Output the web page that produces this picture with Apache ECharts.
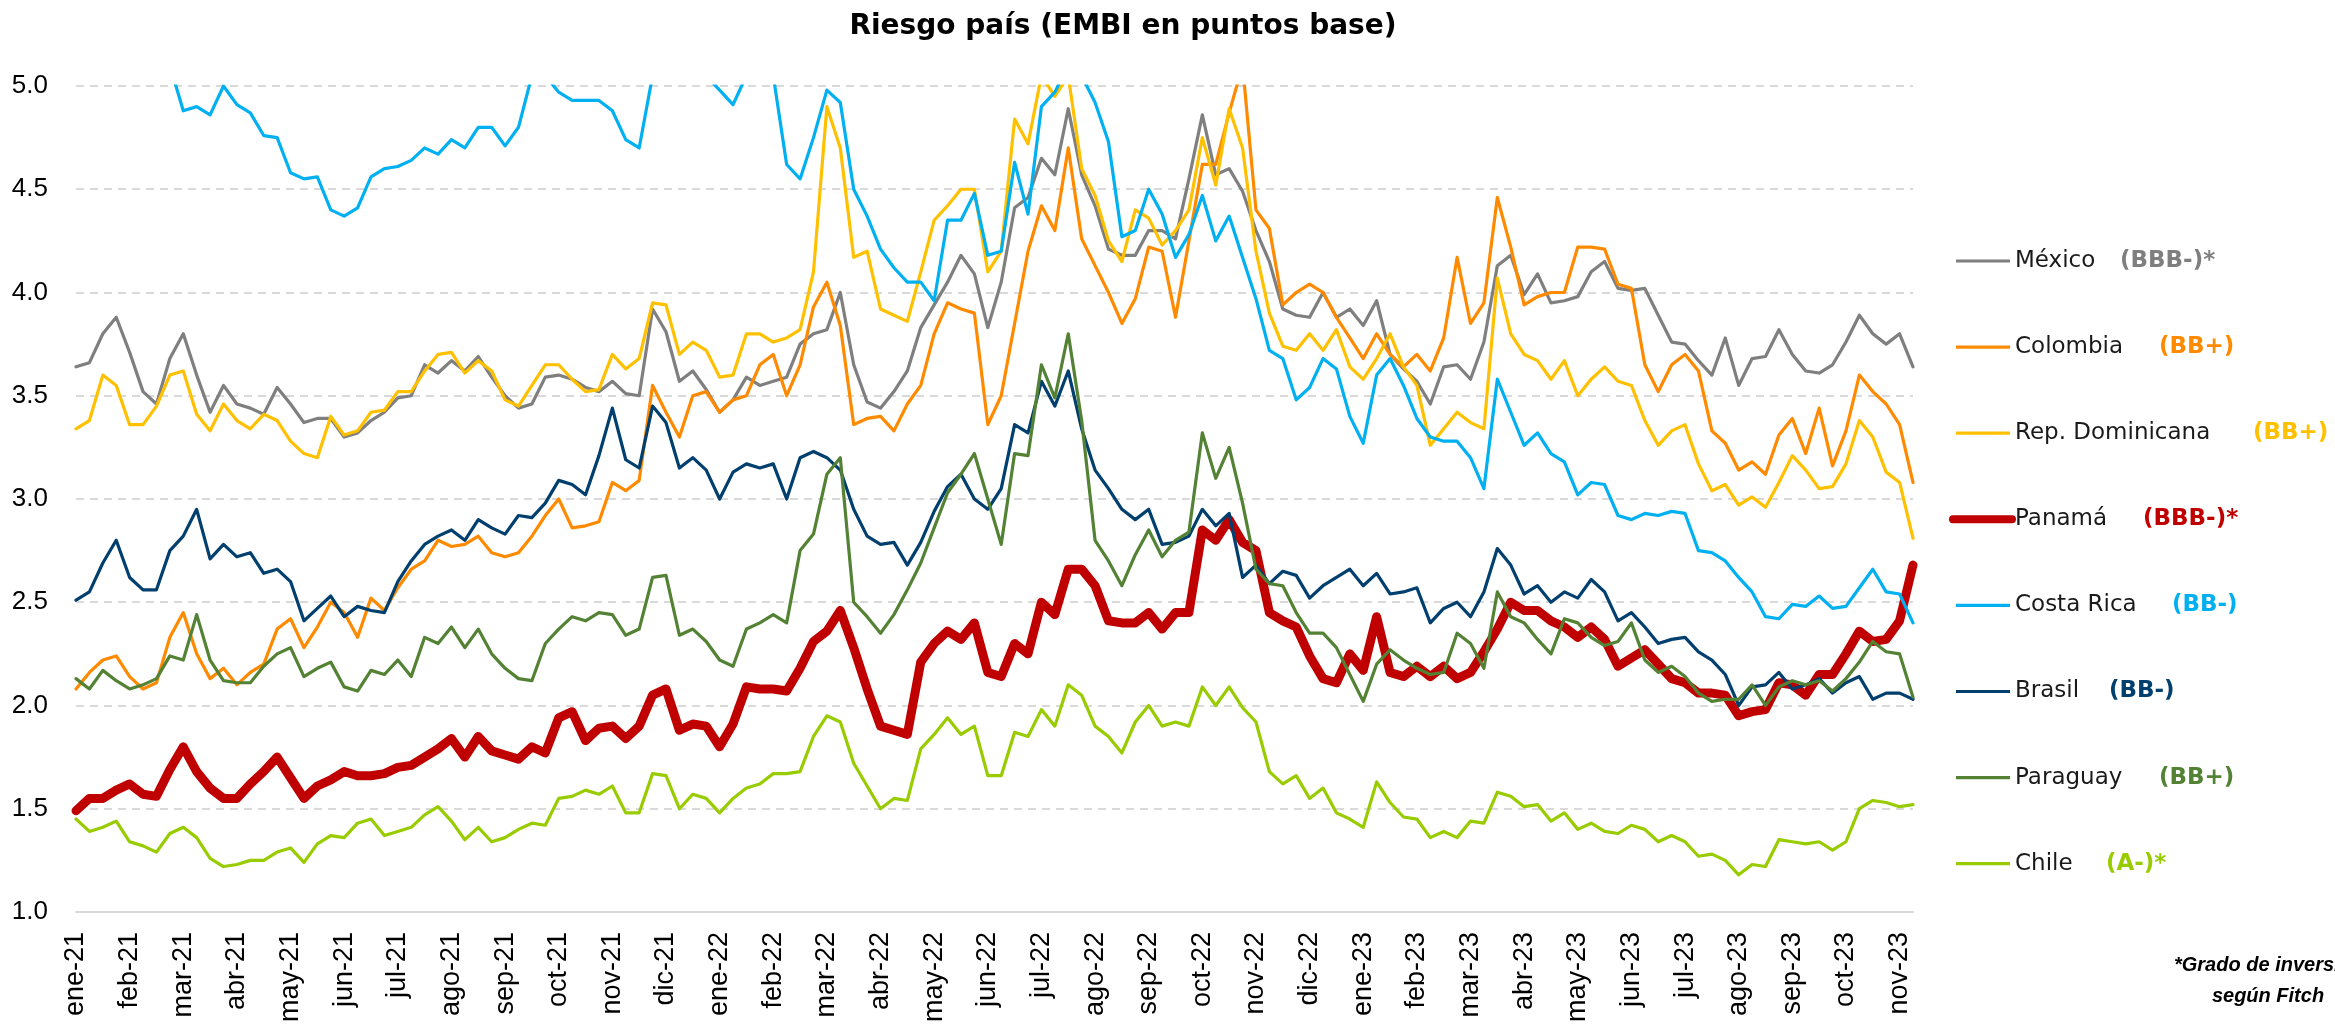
<!DOCTYPE html>
<html lang="es">
<head>
<meta charset="utf-8">
<title>Riesgo país (EMBI en puntos base)</title>
<script src="https://cdn.jsdelivr.net/npm/echarts@6.0.0/dist/echarts.min.js"></script>
<style>
  html, body { margin: 0; padding: 0; background: #fff; }
  #chart { width: 2335px; height: 1025px; }
</style>
</head>
<body>
<div id="chart"></div>
<script>
// meses del eje (una etiqueta por mes, 4 lecturas semanales por mes)
const MONTHS = ['ene-21','feb-21','mar-21','abr-21','may-21','jun-21','jul-21','ago-21','sep-21','oct-21','nov-21','dic-21',
  'ene-22','feb-22','mar-22','abr-22','may-22','jun-22','jul-22','ago-22','sep-22','oct-22','nov-22','dic-22',
  'ene-23','feb-23','mar-23','abr-23','may-23','jun-23','jul-23','ago-23','sep-23','oct-23','nov-23'];
const WEEKS = ['s1', 's2', 's3', 's4'];
const CATEGORIES = MONTHS.flatMap(m => WEEKS.map(w => m + ' ' + w)).slice(0, 138);

// EMBI (cientos de puntos base), lectura semanal
const MEXICO = [
  3.64,3.66,3.80,3.88,3.71,3.52,3.46,3.68,3.80,3.60,3.42,3.55,3.46,3.44,3.41,3.54,3.46,3.37,3.39,3.39,3.30,3.32,3.38,3.42,3.49,3.50,3.65,3.61,3.67,
  3.62,3.69,3.59,3.50,3.44,3.46,3.59,3.60,3.58,3.54,3.52,3.57,3.51,3.50,3.92,3.81,3.57,3.62,3.53,3.42,3.48,3.59,3.55,3.57,3.59,3.75,3.80,3.82,
  4.00,3.65,3.47,3.44,3.52,3.62,3.83,3.94,4.05,4.18,4.09,3.83,4.05,4.41,4.46,4.65,4.57,4.89,4.57,4.42,4.21,4.18,4.18,4.30,4.30,4.26,4.55,
  4.86,4.57,4.60,4.49,4.30,4.15,3.92,3.89,3.88,4.00,3.88,3.92,3.84,3.96,3.70,3.63,3.57,3.46,3.64,3.65,3.58,3.76,4.13,4.18,3.99,4.09,3.95,3.96,
  3.98,4.10,4.15,4.02,4.01,4.02,3.89,3.76,3.75,3.67,3.60,3.78,3.55,3.68,3.69,3.82,3.70,3.62,3.61,3.65,3.76,3.89,3.80,3.75,3.80,3.64];
const COLOMBIA = [
  2.08,2.16,2.22,2.24,2.14,2.08,2.11,2.33,2.45,2.25,2.13,2.18,2.10,2.16,2.20,2.37,2.42,2.28,2.38,2.50,2.45,2.33,2.52,2.46,2.57,2.66,2.70,2.80,2.77,
  2.78,2.82,2.74,2.72,2.74,2.82,2.92,3.00,2.86,2.87,2.89,3.08,3.04,3.09,3.55,3.42,3.30,3.50,3.52,3.42,3.48,3.50,3.65,3.70,3.50,3.65,3.93,4.05,
  3.84,3.36,3.39,3.40,3.33,3.46,3.55,3.80,3.95,3.92,3.90,3.36,3.50,3.85,4.20,4.42,4.30,4.70,4.26,4.13,4.00,3.85,3.97,4.22,4.20,3.88,4.25,
  4.62,4.62,4.87,5.10,4.40,4.31,3.94,4.00,4.04,4.00,3.88,3.78,3.68,3.80,3.70,3.64,3.70,3.62,3.78,4.17,3.85,3.95,4.46,4.22,3.94,3.98,4.00,4.00,
  4.22,4.22,4.21,4.04,4.02,3.65,3.52,3.65,3.70,3.62,3.33,3.27,3.14,3.18,3.12,3.31,3.39,3.22,3.44,3.16,3.33,3.60,3.52,3.46,3.36,3.08];
const REP_DOMINICANA = [
  3.34,3.38,3.60,3.55,3.36,3.36,3.45,3.60,3.62,3.41,3.33,3.46,3.38,3.34,3.41,3.38,3.28,3.22,3.20,3.40,3.31,3.33,3.42,3.43,3.52,3.52,3.62,3.70,3.71,
  3.61,3.67,3.62,3.48,3.45,3.55,3.65,3.65,3.58,3.52,3.53,3.70,3.63,3.68,3.95,3.94,3.70,3.76,3.72,3.59,3.60,3.80,3.80,3.76,3.78,3.82,4.10,4.90,
  4.70,4.17,4.20,3.92,3.89,3.86,4.10,4.35,4.42,4.50,4.50,4.10,4.20,4.84,4.72,5.05,4.95,5.05,4.60,4.47,4.25,4.15,4.40,4.36,4.23,4.30,4.40,
  4.75,4.52,4.89,4.70,4.20,3.90,3.74,3.72,3.80,3.72,3.82,3.64,3.58,3.68,3.80,3.64,3.55,3.26,3.34,3.42,3.37,3.34,4.07,3.80,3.70,3.67,3.58,3.67,
  3.50,3.58,3.64,3.57,3.55,3.38,3.26,3.33,3.36,3.17,3.04,3.07,2.97,3.01,2.96,3.08,3.21,3.14,3.05,3.06,3.17,3.38,3.30,3.13,3.08,2.81];
const PANAMA = [
  1.49,1.55,1.55,1.59,1.62,1.57,1.56,1.69,1.80,1.68,1.60,1.55,1.55,1.62,1.68,1.75,1.65,1.55,1.61,1.64,1.68,1.66,1.66,1.67,1.70,1.71,1.75,1.79,1.84,
  1.75,1.85,1.78,1.76,1.74,1.80,1.77,1.94,1.97,1.83,1.89,1.90,1.84,1.90,2.05,2.08,1.88,1.91,1.90,1.80,1.91,2.09,2.08,2.08,2.07,2.18,2.31,2.36,
  2.46,2.28,2.08,1.90,1.88,1.86,2.21,2.30,2.36,2.32,2.40,2.16,2.14,2.30,2.25,2.50,2.44,2.66,2.66,2.58,2.41,2.40,2.40,2.45,2.37,2.45,2.45,
  2.85,2.80,2.90,2.79,2.75,2.45,2.41,2.38,2.24,2.13,2.11,2.25,2.17,2.43,2.16,2.14,2.19,2.14,2.19,2.13,2.16,2.26,2.37,2.50,2.46,2.46,2.41,2.38,
  2.33,2.38,2.32,2.19,2.23,2.27,2.20,2.13,2.11,2.06,2.06,2.05,1.95,1.97,1.98,2.11,2.10,2.05,2.15,2.15,2.25,2.36,2.31,2.32,2.41,2.68];
const COSTA_RICA = [
  5.30,5.30,5.30,5.25,5.25,5.20,5.15,5.10,4.88,4.90,4.86,5.00,4.91,4.87,4.76,4.75,4.58,4.55,4.56,4.40,4.37,4.41,4.56,4.60,4.61,4.64,4.70,4.67,4.74,
  4.70,4.80,4.80,4.71,4.80,5.05,5.05,4.97,4.93,4.93,4.93,4.88,4.74,4.70,5.05,5.10,5.10,5.10,5.05,4.98,4.91,5.05,5.10,5.05,4.62,4.55,4.75,4.98,
  4.92,4.50,4.37,4.21,4.12,4.05,4.05,3.96,4.35,4.35,4.48,4.18,4.20,4.63,4.38,4.90,4.97,5.10,5.05,4.92,4.73,4.27,4.30,4.50,4.38,4.17,4.28,
  4.47,4.25,4.37,4.17,3.97,3.72,3.68,3.48,3.54,3.68,3.63,3.40,3.27,3.60,3.68,3.55,3.39,3.30,3.28,3.28,3.20,3.05,3.58,3.42,3.26,3.32,3.22,3.18,
  3.02,3.08,3.07,2.92,2.90,2.93,2.92,2.94,2.93,2.75,2.74,2.70,2.62,2.55,2.43,2.42,2.49,2.48,2.53,2.47,2.48,2.57,2.66,2.55,2.54,2.40];
const BRASIL = [
  2.51,2.55,2.69,2.80,2.62,2.56,2.56,2.75,2.82,2.95,2.71,2.78,2.72,2.74,2.64,2.66,2.60,2.41,2.47,2.53,2.43,2.48,2.46,2.45,2.60,2.70,2.78,2.82,2.85,
  2.80,2.90,2.86,2.83,2.92,2.91,2.98,3.09,3.07,3.02,3.21,3.44,3.19,3.15,3.45,3.37,3.15,3.20,3.14,3.00,3.13,3.17,3.15,3.17,3.00,3.20,3.23,3.20,
  3.14,2.95,2.82,2.78,2.79,2.68,2.79,2.94,3.06,3.12,3.00,2.95,3.05,3.36,3.32,3.57,3.45,3.62,3.34,3.14,3.05,2.95,2.90,2.95,2.78,2.79,2.82,
  2.95,2.87,2.93,2.62,2.68,2.59,2.65,2.63,2.52,2.58,2.62,2.66,2.58,2.64,2.54,2.55,2.57,2.40,2.47,2.50,2.43,2.55,2.76,2.68,2.54,2.58,2.50,2.55,
  2.52,2.61,2.55,2.41,2.45,2.38,2.30,2.32,2.33,2.26,2.22,2.15,2.00,2.09,2.10,2.16,2.08,2.10,2.13,2.06,2.11,2.14,2.03,2.06,2.06,2.03];
const PARAGUAY = [
  2.13,2.08,2.17,2.12,2.08,2.10,2.13,2.24,2.22,2.44,2.22,2.12,2.11,2.11,2.19,2.25,2.28,2.14,2.18,2.21,2.09,2.07,2.17,2.15,2.22,2.14,2.33,2.30,2.38,
  2.28,2.37,2.25,2.18,2.13,2.12,2.30,2.37,2.43,2.41,2.45,2.44,2.34,2.37,2.62,2.63,2.34,2.37,2.31,2.22,2.19,2.37,2.40,2.44,2.40,2.75,2.83,3.12,
  3.20,2.50,2.43,2.35,2.44,2.56,2.69,2.86,3.03,3.12,3.22,3.00,2.78,3.22,3.21,3.65,3.49,3.80,3.38,2.80,2.70,2.58,2.73,2.85,2.72,2.80,2.84,
  3.32,3.10,3.25,2.98,2.66,2.59,2.58,2.45,2.35,2.35,2.28,2.15,2.02,2.20,2.27,2.22,2.18,2.15,2.16,2.35,2.30,2.18,2.55,2.43,2.40,2.32,2.25,2.42,
  2.40,2.33,2.29,2.31,2.40,2.22,2.16,2.19,2.14,2.06,2.02,2.03,2.03,2.10,2.00,2.09,2.12,2.10,2.12,2.07,2.13,2.21,2.31,2.26,2.25,2.04];
const CHILE = [
  1.45,1.39,1.41,1.44,1.34,1.32,1.29,1.38,1.41,1.36,1.26,1.22,1.23,1.25,1.25,1.29,1.31,1.24,1.33,1.37,1.36,1.43,1.45,1.37,1.39,1.41,1.47,1.51,1.44,
  1.35,1.41,1.34,1.36,1.40,1.43,1.42,1.55,1.56,1.59,1.57,1.61,1.48,1.48,1.67,1.66,1.50,1.57,1.55,1.48,1.55,1.60,1.62,1.67,1.67,1.68,1.85,1.95,
  1.92,1.72,1.61,1.50,1.55,1.54,1.79,1.86,1.94,1.86,1.90,1.66,1.66,1.87,1.85,1.98,1.90,2.10,2.05,1.90,1.85,1.77,1.92,2.00,1.90,1.92,1.90,
  2.09,2.00,2.09,1.99,1.92,1.68,1.62,1.66,1.55,1.60,1.48,1.45,1.41,1.63,1.53,1.46,1.45,1.36,1.39,1.36,1.44,1.43,1.58,1.56,1.51,1.52,1.44,1.48,
  1.40,1.43,1.39,1.38,1.42,1.40,1.34,1.37,1.34,1.27,1.28,1.25,1.18,1.23,1.22,1.35,1.34,1.33,1.34,1.30,1.34,1.50,1.54,1.53,1.51,1.52];

const Y_TICKS = [1.0, 1.5, 2.0, 2.5, 3.0, 3.5, 4.0, 4.5, 5.0];

const SERIES = [
  { name: 'México', rating: '(BBB-)*', color: '#7f7f7f', data: MEXICO, ratingX: 2120 },
  { name: 'Colombia', rating: '(BB+)', color: '#ff8a00', data: COLOMBIA, ratingX: 2159 },
  { name: 'Rep. Dominicana', rating: '(BB+)', color: '#ffc000', data: REP_DOMINICANA, ratingX: 2253 },
  { name: 'Panamá', rating: '(BBB-)*', color: '#c00000', data: PANAMA, ratingX: 2143, thick: true },
  { name: 'Costa Rica', rating: '(BB-)', color: '#00b0f0', data: COSTA_RICA, ratingX: 2172 },
  { name: 'Brasil', rating: '(BB-)', color: '#003f6e', data: BRASIL, ratingX: 2109 },
  { name: 'Paraguay', rating: '(BB+)', color: '#548235', data: PARAGUAY, ratingX: 2159 },
  { name: 'Chile', rating: '(A-)*', color: '#99cc00', data: CHILE, ratingX: 2106 }
];

const chart = echarts.init(document.getElementById('chart'), null, { renderer: 'canvas' });

// leyenda dibujada a mano (línea + nombre + calificación en color)
const legendGraphics = [];
SERIES.forEach((s, i) => {
  const y = 261 + i * 86.1;
  legendGraphics.push({
    type: 'line',
    shape: { x1: s.thick ? 1953 : 1956, y1: y, x2: s.thick ? 2012 : 2010, y2: y },
    style: { stroke: s.color, lineWidth: s.thick ? 8 : 3.2, lineCap: s.thick ? 'round' : 'butt' }
  });
  legendGraphics.push({
    type: 'text', x: 2015, y: y,
    style: { text: s.name, fontSize: 23, fontFamily: 'DejaVu Sans', fill: '#1a1a1a', align: 'left', verticalAlign: 'middle' }
  });
  legendGraphics.push({
    type: 'text', x: s.ratingX, y: y,
    style: { text: s.rating, fontSize: 23, fontWeight: 'bold', fontFamily: 'DejaVu Sans', fill: s.color, align: 'left', verticalAlign: 'middle' }
  });
});

const option = {
  animation: false,
  backgroundColor: '#ffffff',
  grid: { left: 76, right: 422, top: 86, bottom: 113, containLabel: false },
  xAxis: {
    type: 'category',
    data: CATEGORIES,
    boundaryGap: false,
    axisLine: { lineStyle: { color: '#d9d9d9', width: 2 } },
    axisTick: { show: false },
    axisLabel: {
      interval: (idx) => idx % 4 === 0,
      rotate: 90,
      margin: 20,
      fontSize: 27,
      fontFamily: 'Liberation Sans',
      color: '#000',
      formatter: (v) => v.split(' ')[0]
    },
    splitLine: { show: false }
  },
  yAxis: {
    type: 'value',
    min: Y_TICKS[0],
    max: Y_TICKS[Y_TICKS.length - 1],
    interval: 0.5,
    axisLine: { show: false },
    axisTick: { show: false },
    axisLabel: {
      margin: 28,
      fontSize: 26,
      fontFamily: 'Liberation Sans',
      color: '#000',
      formatter: (v) => v.toFixed(1)
    },
    splitLine: { lineStyle: { color: '#d9d9d9', width: 2, type: [8, 6] } }
  },
  series: SERIES.map((s, i) => ({
    name: s.name,
    type: 'line',
    data: s.data,
    symbol: 'none',
    showSymbol: false,
    clip: true,
    z: 2 + i,
    lineStyle: { color: s.color, width: s.thick ? 9 : 3.2, join: 'round', cap: 'round' },
    itemStyle: { color: s.color }
  })),
  graphic: [
    {
      type: 'text', x: 1123, y: 27,
      style: { text: 'Riesgo país (EMBI en puntos base)', fontSize: 28, fontWeight: 'bold', fontFamily: 'DejaVu Sans', fill: '#000', align: 'center', verticalAlign: 'middle' }
    },
    ...legendGraphics,
    {
      type: 'text', x: 2174, y: 965,
      style: { text: '*Grado de inversión', fontSize: 20, fontWeight: 'bold', fontStyle: 'italic', fontFamily: 'Liberation Sans', fill: '#000', align: 'left', verticalAlign: 'middle' }
    },
    {
      type: 'text', x: 2268, y: 996,
      style: { text: 'según Fitch', fontSize: 20, fontWeight: 'bold', fontStyle: 'italic', fontFamily: 'Liberation Sans', fill: '#000', align: 'center', verticalAlign: 'middle' }
    }
  ]
};

chart.setOption(option);
</script>
</body>
</html>
